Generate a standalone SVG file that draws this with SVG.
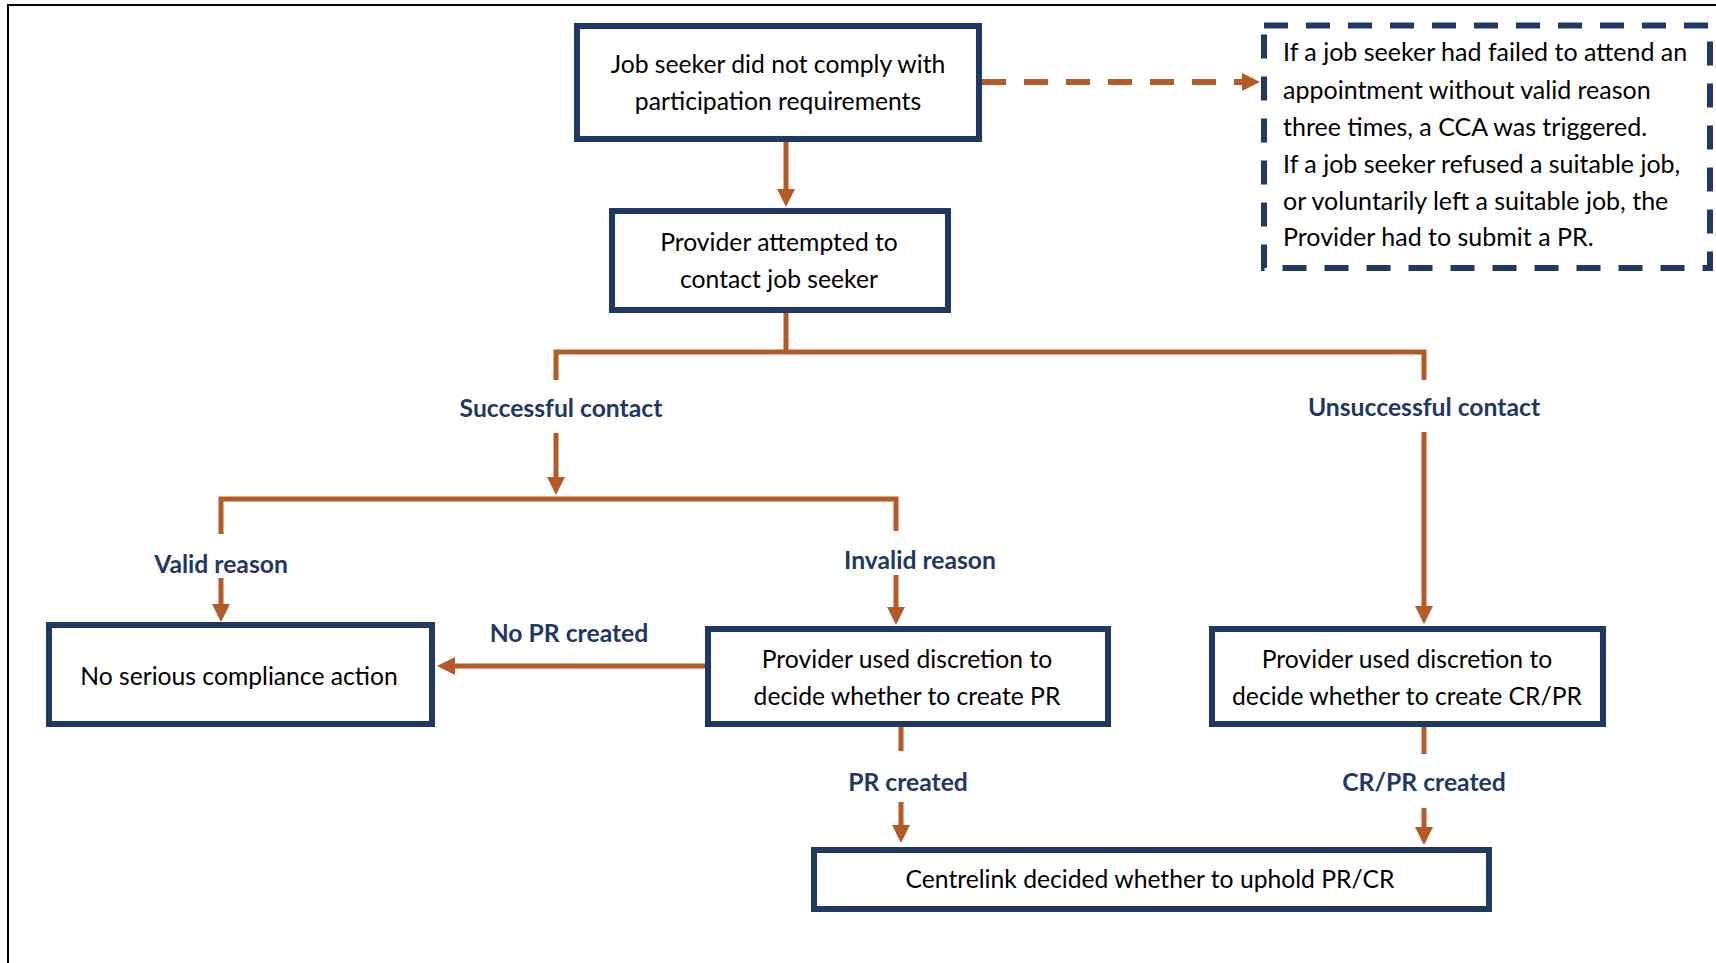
<svg xmlns="http://www.w3.org/2000/svg" width="1716" height="963" viewBox="0 0 1716 963">
<defs>
<style>
.box{fill:#fff;stroke:#203864;stroke-width:6}
.note{fill:#fff;stroke:#203864;stroke-width:6;stroke-dasharray:24 18}
.t{font-family:Lato,"Open Sans",sans-serif;font-size:24.7px;fill:#000;text-anchor:middle}
.tl{font-family:Lato,"Open Sans",sans-serif;font-size:25px;fill:#000;text-anchor:start}
.lab{font-family:Lato,"Open Sans",sans-serif;font-size:24.7px;font-weight:bold;fill:#1F3864;text-anchor:middle}
.c{fill:none;stroke:#B35A26;stroke-width:5}
.d{fill:none;stroke:#B35A26;stroke-width:6;stroke-dasharray:24 18}
</style>
<marker id="ah" markerUnits="userSpaceOnUse" markerWidth="18" markerHeight="18" refX="0" refY="9" orient="auto">
<path d="M0,0 L18,9 L0,18 z" fill="#B35A26"/>
</marker>
</defs>
<rect width="1716" height="963" fill="#fff"/>
<path d="M7,5 H1716 M8,5 V963" stroke="#000" stroke-width="2" fill="none"/>

<g id="connectors">
<path class="c" d="M786,142 V189" marker-end="url(#ah)"/>
<path class="d" d="M982,82 H1242" marker-end="url(#ah)"/>
<path class="c" d="M786,313 V352 M556,380 V352 H1424 V380"/>
<path class="c" d="M556,433 V477" marker-end="url(#ah)"/>
<path class="c" d="M221,534 V499 H896 V531"/>
<path class="c" d="M221,578 V604" marker-end="url(#ah)"/>
<path class="c" d="M896,575 V607" marker-end="url(#ah)"/>
<path class="c" d="M705,666 H455" marker-end="url(#ah)"/>
<path class="c" d="M901,727 V751"/>
<path class="c" d="M901,802 V825" marker-end="url(#ah)"/>
<path class="c" d="M1424,727 V754"/>
<path class="c" d="M1424,808 V827" marker-end="url(#ah)"/>
<path class="c" d="M1424,432 V606" marker-end="url(#ah)"/>
<text class="lab" x="561" y="417">Successful contact</text>
<text class="lab" x="1424" y="416">Unsuccessful contact</text>
<text class="lab" x="221" y="573">Valid reason</text>
<text class="lab" x="920" y="569">Invalid reason</text>
<text class="lab" x="569" y="642">No PR created</text>
<text class="lab" x="908" y="791">PR created</text>
<text class="lab" x="1424" y="791">CR/PR created</text>
</g>

<g id="n1">
<rect class="box" x="577" y="26" width="402" height="113"/>
<text class="t" x="778" y="73">Job seeker did not comply with</text>
<text class="t" x="778" y="110">participation requirements</text>
</g>
<g id="note">
<rect class="note" x="1264" y="25.5" width="446" height="242.5"/>
<text class="tl" x="1283" y="61">If a job seeker had failed to attend an</text>
<text class="tl" x="1283" y="99">appointment without valid reason</text>
<text class="tl" x="1283" y="136">three times, a CCA was triggered.</text>
<text class="tl" x="1283" y="173">If a job seeker refused a suitable job,</text>
<text class="tl" x="1283" y="210">or voluntarily left a suitable job, the</text>
<text class="tl" x="1283" y="246">Provider had to submit a PR.</text>
</g>
<g id="n2">
<rect class="box" x="612" y="211" width="336" height="99"/>
<text class="t" x="779" y="251">Provider attempted to</text>
<text class="t" x="779" y="288">contact job seeker</text>
</g>
<g id="n3">
<rect class="box" x="49" y="625" width="383" height="99"/>
<text class="t" x="239" y="685">No serious compliance action</text>
</g>
<g id="n4">
<rect class="box" x="708" y="629" width="400" height="95"/>
<text class="t" x="907" y="668">Provider used discretion to</text>
<text class="t" x="907" y="705">decide whether to create PR</text>
</g>
<g id="n5">
<rect class="box" x="1212" y="629" width="391" height="95"/>
<text class="t" x="1407" y="668">Provider used discretion to</text>
<text class="t" x="1407" y="705">decide whether to create CR/PR</text>
</g>
<g id="n6">
<rect class="box" x="814" y="850" width="675" height="59"/>
<text class="t" x="1150" y="888">Centrelink decided whether to uphold PR/CR</text>
</g>
</svg>
